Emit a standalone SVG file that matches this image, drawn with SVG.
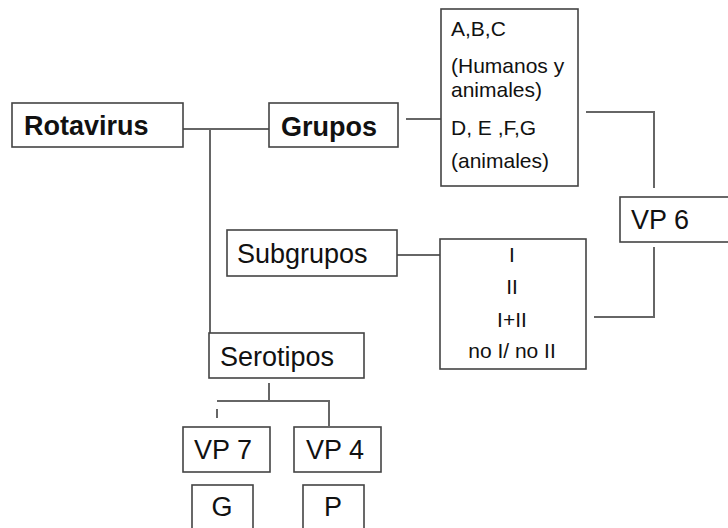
<svg xmlns="http://www.w3.org/2000/svg" width="728" height="528" viewBox="0 0 728 528">
<style>
.box{fill:#fff;stroke:#444;stroke-width:1.6}
.ln{fill:none;stroke:#666;stroke-width:2}
text{font-family:"Liberation Sans",Arial,sans-serif;fill:#111}
.big{font-size:27px}
.bold{font-weight:bold}
.sm{font-size:21px}
.c{text-anchor:middle}
</style>
<rect width="728" height="528" fill="#fff"/>
<g id="connectors">
<path class="ln" d="M175 129H269"/>
<path class="ln" d="M210 129V378"/>
<path class="ln" d="M406 119H447"/>
<path class="ln" d="M586 112H654V188"/>
<path class="ln" d="M397 255H440"/>
<path class="ln" d="M594 317H654V247"/>
<path class="ln" d="M269 383V401M217 401H329V426M217 409V418"/>
</g>
<g id="rotavirus"><rect class="box" x="12" y="103" width="171" height="44"/><text class="big bold" x="24" y="135">Rotavirus</text></g>
<g id="grupos"><rect class="box" x="269" y="103" width="129" height="44"/><text class="big bold" x="281" y="136">Grupos</text></g>
<g id="grupos-lista"><rect class="box" x="441" y="9" width="137" height="177"/>
<text class="sm" x="451" y="36">A,B,C</text>
<text class="sm" x="451" y="73">(Humanos y</text>
<text class="sm" x="451" y="97">animales)</text>
<text class="sm" x="451" y="135">D, E ,F,G</text>
<text class="sm" x="451" y="168">(animales)</text></g>
<g id="vp6"><rect class="box" x="620" y="197" width="112" height="45"/><text class="big" x="631" y="229">VP 6</text></g>
<g id="subgrupos"><rect class="box" x="227" y="230" width="170" height="46"/><text class="big" x="237" y="263">Subgrupos</text></g>
<g id="subgrupos-lista"><rect class="box" x="440" y="239" width="146" height="130"/>
<text class="sm c" x="512" y="262">I</text>
<text class="sm c" x="512" y="294">II</text>
<text class="sm c" x="512" y="327">I+II</text>
<text class="sm c" x="512" y="358">no I/ no II</text></g>
<g id="serotipos"><rect class="box" x="209" y="333" width="155" height="45"/><text class="big" x="220" y="366">Serotipos</text></g>
<g id="vp7"><rect class="box" x="183" y="427" width="87" height="45"/><text class="big" x="194" y="459">VP 7</text></g>
<g id="vp4"><rect class="box" x="294" y="427" width="87" height="45"/><text class="big" x="306" y="459">VP 4</text></g>
<g id="g"><rect class="box" x="192" y="485" width="61" height="50"/><text class="big c" x="222" y="516">G</text></g>
<g id="p"><rect class="box" x="303" y="485" width="61" height="50"/><text class="big c" x="333" y="516">P</text></g>
</svg>
